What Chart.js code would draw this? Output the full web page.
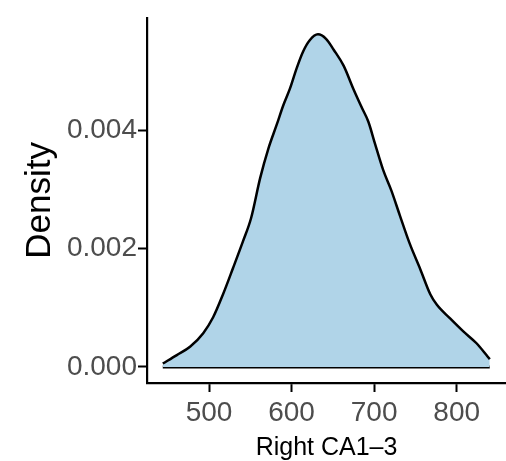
<!DOCTYPE html>
<html lang="en">
<head>
  <meta charset="UTF-8">
  <title>Density</title>
  <script src="https://cdn.jsdelivr.net/npm/chart.js"></script>
  <style>
    body {
      margin: 0;
      background: white;
    }
    .wrap {
      width: 506px;
      height: 461px;
    }
  </style>
</head>
<body>
  <div class="wrap">
    <canvas id="densityChart" width="506" height="461"></canvas>
  </div>

  <script>
    // density curve
    const xValues = [444, 461, 477, 493, 505, 517, 529, 541, 551, 562, 572, 582, 590, 598, 606, 614, 622, 632,
                     642, 651, 663, 675, 685, 693, 701, 711, 721, 731, 743, 756, 768, 776, 792, 808, 824, 836, 840];
    const densityValues = [0.000057, 0.0002, 0.00034, 0.00057, 0.00084, 0.00123, 0.00167, 0.00212, 0.00252,
                           0.0032, 0.0037, 0.0041, 0.00443, 0.00471, 0.00505, 0.00534, 0.00553, 0.00563,
                           0.00555, 0.00537, 0.0051, 0.0047, 0.00439, 0.00415, 0.00378, 0.00333, 0.00298,
                           0.00257, 0.00209, 0.00165, 0.00123, 0.00105, 0.00082, 0.0006, 0.0004, 0.0002, 0.00013];
    const xTicks = [500, 600, 700, 800];
    const yTicks = [0, 0.002, 0.004];

    const curve = xValues.map((x, i) => ({ x: x, y: densityValues[i] }));
    const baseline = [
      { x: xValues[0], y: 0 },
      { x: xValues[xValues.length - 1], y: 0 }
    ];

    const fontFamily = "'Liberation Sans', Arial, Helvetica, sans-serif";

    const ctx = document.getElementById('densityChart').getContext('2d');
    new Chart(ctx, {
      type: 'line',
      data: {
        datasets: [
          {
            data: curve,
            borderColor: '#000000',
            borderWidth: 2.5,
            backgroundColor: '#b0d4e8',
            fill: 'origin',
            pointRadius: 0,
            cubicInterpolationMode: 'monotone'
          },
          {
            data: baseline,
            borderColor: '#000000',
            borderWidth: 3,
            pointRadius: 0,
            fill: false
          }
        ]
      },
      options: {
        responsive: false,
        animation: false,
        layout: { padding: { top: 13, right: 0, left: 0, bottom: 0 } },
        plugins: {
          legend: { display: false },
          tooltip: { enabled: false }
        },
        scales: {
          x: {
            type: 'linear',
            min: 424.9,
            max: 859.7,
            afterFit: (scale) => { scale.height = 78; },
            afterBuildTicks: (scale) => { scale.ticks = xTicks.map(v => ({ value: v })); },
            border: { display: true, color: '#000000', width: 2.2 },
            grid: { drawOnChartArea: false, drawTicks: true, tickLength: 9, tickWidth: 2, tickColor: '#000000' },
            ticks: {
              color: '#4d4d4d',
              padding: 4,
              maxRotation: 0,
              font: { family: fontFamily, size: 28 }
            },
            title: {
              display: true,
              text: 'Right CA1–3',
              color: '#000000',
              padding: { top: 0, bottom: -2 },
              font: { family: fontFamily, size: 25 }
            }
          },
          y: {
            type: 'linear',
            min: -0.000273,
            max: 0.00591,
            afterFit: (scale) => { scale.width = 147; },
            afterBuildTicks: (scale) => { scale.ticks = yTicks.map(v => ({ value: v })); },
            border: { display: true, color: '#000000', width: 2.2 },
            grid: { drawOnChartArea: false, drawTicks: true, tickLength: 9, tickWidth: 2, tickColor: '#000000' },
            ticks: {
              color: '#4d4d4d',
              padding: 1,
              font: { family: fontFamily, size: 28 },
              callback: (v) => v.toFixed(3)
            },
            title: {
              display: true,
              text: 'Density',
              color: '#000000',
              padding: { top: 19, bottom: 0 },
              font: { family: fontFamily, size: 35 }
            }
          }
        }
      }
    });
  </script>
</body>
</html>
